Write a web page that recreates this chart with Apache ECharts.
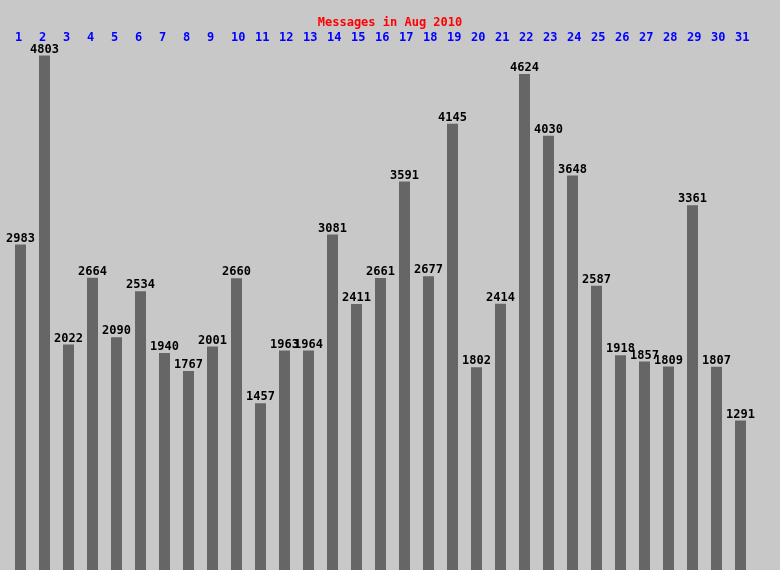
<!DOCTYPE html>
<html>
<head>
<meta charset="utf-8">
<script src="https://cdn.jsdelivr.net/npm/echarts@6/dist/echarts.min.js"></script>
<style>
html,body{margin:0;padding:0;background:#c8c8c8;}
#chart{width:780px;height:570px;}
</style>
</head>
<body>
<div id="chart"></div>
<script>
var titleText = 'Messages in Aug 2010';
var days = ['1','2','3','4','5','6','7','8','9','10','11','12','13','14','15','16','17','18','19','20','21','22','23','24','25','26','27','28','29','30','31'];
var messages = [2983,4803,2022,2664,2090,2534,1940,1767,2001,2660,1457,1963,1964,3081,2411,2661,3591,2677,4145,1802,2414,4624,4030,3648,2587,1918,1857,1809,3361,1807,1291];

var chart = echarts.init(document.getElementById('chart'), null, {renderer: 'canvas'});
var FONT = 'DejaVu Sans Mono';
var option = {
  backgroundColor: '#c8c8c8',
  animation: false,
  title: {
    text: titleText,
    left: 'center',
    top: 12,
    textStyle: {color: '#ff0000', fontFamily: FONT, fontWeight: 'bold', fontSize: 12}
  },
  grid: {left: 8.5, right: 27.5, top: 35, bottom: 0, containLabel: false},
  xAxis: {
    type: 'category',
    position: 'top',
    data: days,
    axisLine: {show: false},
    axisTick: {show: false},
    splitLine: {show: false},
    axisLabel: {
      interval: 0,
      margin: -9,
      formatter: function (v) { return '{d|' + v + '}'; },
      rich: {
        d: {width: 11, align: 'left', color: '#0000ff', fontFamily: FONT, fontWeight: 'bold', fontSize: 12}
      }
    }
  },
  yAxis: {
    type: 'value',
    min: -149,
    max: 5000,
    startValue: -149,
    show: false,
    splitLine: {show: false}
  },
  series: [{
    type: 'bar',
    data: messages,
    barWidth: 11,
    itemStyle: {color: '#666666'},
    label: {
      show: true,
      position: 'top',
      distance: 0,
      color: '#000000',
      fontFamily: FONT,
      fontWeight: 'bold',
      fontSize: 12
    }
  }]
};
chart.setOption(option);
</script>
</body>
</html>
